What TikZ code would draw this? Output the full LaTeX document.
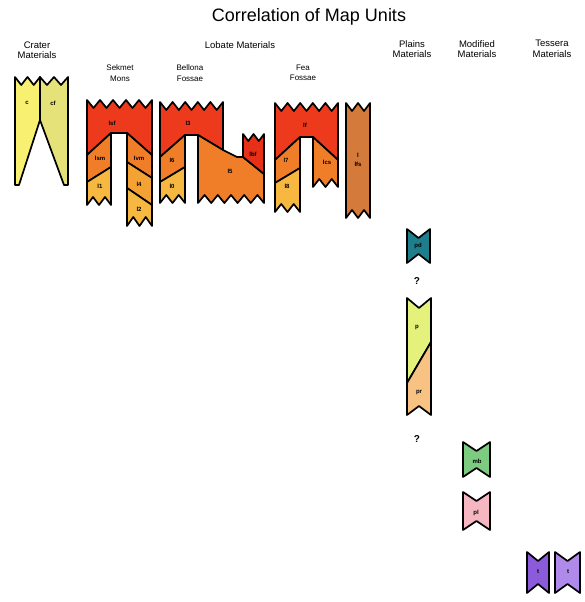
\documentclass[tikz,border=0pt]{standalone}
\usepackage{fontspec}
\setmainfont{Liberation Sans}
\usetikzlibrary{calc}
\definecolor{crC}{HTML}{F8F070}
\definecolor{crCF}{HTML}{E6E27A}
\definecolor{lbRed}{HTML}{EE3A1C}
\definecolor{lbDark}{HTML}{E63018}
\definecolor{lbOrange}{HTML}{F07E28}
\definecolor{lbAmber}{HTML}{F5A234}
\definecolor{lbYellow}{HTML}{F6B840}
\definecolor{lbBrown}{HTML}{D47A3A}
\definecolor{plTeal}{HTML}{1F7E8C}
\definecolor{plLime}{HTML}{E4F27C}
\definecolor{plPeach}{HTML}{F8C282}
\definecolor{mdGreen}{HTML}{7DCB80}
\definecolor{mdPink}{HTML}{F6B7C2}
\definecolor{tsPurple}{HTML}{8C5BDB}
\definecolor{tsLilac}{HTML}{B08AEB}
\tikzset{
  unit/.style  = {draw=black, line width=1.7pt, line join=round},
  ulbl/.style  = {font=\fontsize{6}{6.5}\selectfont\bfseries, inner sep=0pt},
  ttl/.style   = {font=\fontsize{18}{20}\selectfont},
  hdr/.style   = {font=\fontsize{9.5}{10.5}\selectfont, align=center, inner sep=0pt},
  shdr/.style  = {font=\fontsize{8}{10.5}\selectfont, align=center, inner sep=0pt},
  qmark/.style = {font=\fontsize{10}{12}\selectfont\bfseries},
}
% saw-tooth edge from (#1,#3) to (#2,#3), #4 teeth, depth #5
\newcommand{\zig}[5]{foreach \k in {1,...,#4}{ -- ({#1+(\k-0.5)*(#2-#1)/#4},{#3+#5}) -- ({#1+\k*(#2-#1)/#4},#3)}}
\begin{document}
\begin{tikzpicture}[x=1pt,y=-1pt]
  \useasboundingbox (0,0) rectangle (585,602);
  % headings
  \node[ttl] (title) at (309,17) {Correlation of Map Units};
  \node[hdr] (hCrater) at (37,50) {Crater\\Materials};
  \node[hdr] (hLobate) at (240,45) {Lobate Materials};
  \node[shdr] (hSekmet) at (120,73) {Sekmet\\Mons};
  \node[shdr] (hBellona) at (190,73) {Bellona\\Fossae};
  \node[shdr] (hFea) at (303,73) {Fea\\Fossae};
  \node[hdr] (hPlains) at (412,49) {Plains\\Materials};
  \node[hdr] (hModified) at (477,49) {Modified\\Materials};
  \node[hdr] (hTessera) at (552,49) {Tessera\\Materials};

  % crater materials
  \draw[unit, fill=crC] (15,77) \zig{15}{40}{77}{2}{8} -- (40,120) -- (19,185) -- (15,185) -- cycle;
  \draw[unit, fill=crCF] (40,77) \zig{40}{68}{77}{2}{8} -- (68,185) -- (64,185) -- (40,120) -- cycle;
  \node[ulbl] (uc) at (27,103) {c};
  \node[ulbl] (ucf) at (53,103) {cf};

  % Sekmet Mons
  \draw[unit, fill=lbRed] (87,100) \zig{87}{152}{100}{5}{8} -- (152,155) -- (127,133) -- (111,133) -- (87,155) -- cycle;
  \draw[unit, fill=lbOrange] (87,155) -- (111,133) -- (111,167) -- (87,182) -- cycle;
  \draw[unit, fill=lbYellow] (87,182) -- (111,167) -- (111,205) \zig{111}{87}{205}{2}{-8} -- cycle;
  \draw[unit, fill=lbOrange] (127,133) -- (152,155) -- (152,178) -- (127,162) -- cycle;
  \draw[unit, fill=lbAmber] (127,162) -- (152,178) -- (152,205) -- (127,188) -- cycle;
  \draw[unit, fill=lbYellow] (127,188) -- (152,205) -- (152,226) \zig{152}{127}{226}{2}{-9} -- cycle;
  \node[ulbl] (ulsf) at (112,123) {lsf};
  \node[ulbl] (ulsm) at (100,158) {lsm};
  \node[ulbl] (ulvm) at (139,158) {lvm};
  \node[ulbl] (ul1) at (100,186) {l1};
  \node[ulbl] (ul4) at (139,184) {l4};
  \node[ulbl] (ul2) at (139,209) {l2};

  % Bellona Fossae
  \draw[unit, fill=lbRed] (160,102) \zig{160}{223}{102}{5}{8} -- (223,150) -- (198,135) -- (185,135) -- (160,157) -- cycle;
  \draw[unit, fill=lbOrange] (160,157) -- (185,135) -- (185,167) -- (160,182) -- cycle;
  \draw[unit, fill=lbYellow] (160,182) -- (185,167) -- (185,203) \zig{185}{160}{203}{2}{-8} -- cycle;
  \draw[unit, fill=lbOrange] (198,135) -- (223,150) -- (237,157) -- (243,157) -- (264,174) -- (264,203) \zig{264}{198}{203}{5}{-8} -- cycle;
  \draw[unit, fill=lbDark] (243,157) -- (243,134) \zig{243}{264}{134}{2}{7} -- (264,174) -- cycle;
  \node[ulbl] (ul3) at (188,123) {l3};
  \node[ulbl] (ul6) at (172,160) {l6};
  \node[ulbl] (ul0) at (172,186) {l0};
  \node[ulbl] (ul5) at (230,171) {l5};
  \node[ulbl] (ulbf) at (253,154) {lbf};

  % Fea Fossae
  \draw[unit, fill=lbRed] (275,103) \zig{275}{338}{103}{5}{8} -- (338,160) -- (313,137) -- (300,137) -- (275,160) -- cycle;
  \draw[unit, fill=lbOrange] (275,160) -- (300,137) -- (300,168) -- (275,183) -- cycle;
  \draw[unit, fill=lbYellow] (275,183) -- (300,168) -- (300,212) \zig{300}{275}{212}{2}{-8} -- cycle;
  \draw[unit, fill=lbOrange] (313,137) -- (338,160) -- (338,187) \zig{338}{313}{187}{2}{-8} -- cycle;
  \draw[unit, fill=lbBrown] (346,103) \zig{346}{370}{103}{2}{8} -- (370,218) \zig{370}{346}{218}{2}{-8} -- cycle;
  \node[ulbl] (ulf) at (305,125) {lf};
  \node[ulbl] (ul7) at (286,160) {l7};
  \node[ulbl] (ul8) at (287,186) {l8};
  \node[ulbl] (ulcs) at (327,162) {lcs};
  \node[ulbl, align=center] (ulfs) at (358,160) {l\\[2pt]lfs};

  % plains materials
  \draw[unit, fill=plTeal] (407,229) \zig{407}{430}{229}{1}{9} -- (430,263) \zig{430}{407}{263}{1}{-9} -- cycle;
  \node[ulbl] (upd) at (418,246) {pd};
  \node[qmark] (q1) at (417,281) {?};
  \draw[unit, fill=plLime] (407,298) \zig{407}{431}{298}{1}{10} -- (431,342) -- (407,383) -- cycle;
  \draw[unit, fill=plPeach] (431,342) -- (431,415) \zig{431}{407}{415}{1}{-9} -- (407,383) -- cycle;
  \node[ulbl] (up) at (417,328) {p};
  \node[ulbl] (upr) at (419,392) {pr};
  \node[qmark] (q2) at (417,439) {?};

  % modified materials
  \draw[unit, fill=mdGreen] (463,442) \zig{463}{490}{442}{1}{9} -- (490,477) \zig{490}{463}{477}{1}{-9} -- cycle;
  \draw[unit, fill=mdPink] (463,492) \zig{463}{490}{492}{1}{9} -- (490,530) \zig{490}{463}{530}{1}{-9} -- cycle;
  \node[ulbl] (umb) at (477,461) {mb};
  \node[ulbl] (upl) at (476,513) {pl};

  % tessera materials
  \draw[unit, fill=tsPurple] (527,552) \zig{527}{549}{552}{1}{9} -- (549,593) \zig{549}{527}{593}{1}{-9} -- cycle;
  \draw[unit, fill=tsLilac] (555,552) \zig{555}{580}{552}{1}{9} -- (580,593) \zig{580}{555}{593}{1}{-9} -- cycle;
  \node[ulbl] (ut1) at (538,572) {t};
  \node[ulbl] (ut2) at (568,572) {t};
\end{tikzpicture}
\end{document}
